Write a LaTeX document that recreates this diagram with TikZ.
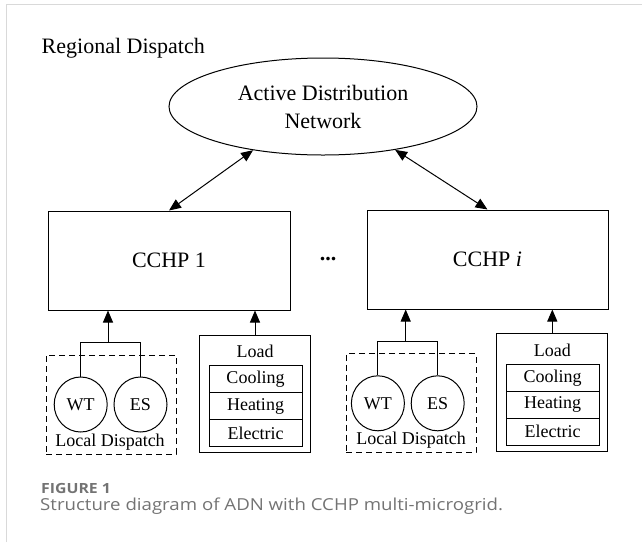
\documentclass[tikz,border=0pt]{standalone}
\usepackage{fontspec}
\setmainfont{Liberation Serif}
\newfontfamily\capfont[FakeStretch=1.13]{Open Sans}
\usetikzlibrary{arrows.meta,shapes.geometric}

\begin{document}
\begin{tikzpicture}[x=1pt,y=-1pt,
    big/.style={font=\fontsize{22}{28}\selectfont},
    small/.style={font=\fontsize{18}{20}\selectfont},
    box/.style={draw,line width=1pt,inner sep=0pt},
    unit/.style={draw,ellipse,line width=1pt,minimum width=53,minimum height=55,inner sep=0pt,small},
    localbox/.style={draw,dash pattern=on 6pt off 4pt,line width=1pt,minimum width=130,minimum height=99},
    loadrow/.style={box,minimum width=93,minimum height=27,small},
    link/.style={line width=1pt},
    arr/.style={link,-{Triangle[length=12pt,width=10pt]}},
    dblarr/.style={link,{Triangle[length=12pt,width=10pt]}-{Triangle[length=12pt,width=10pt]}}]
    \useasboundingbox (0,0) rectangle (642,542);
    \draw[black!15,line width=1.5pt] (6.5,542) -- (6.5,4.5) -- (642,4.5);

    % upper level
    \node[big,anchor=base west,inner sep=0pt] (regional) at (41.5,53) {Regional Dispatch};
    \node[big,draw,ellipse,line width=1pt,minimum width=308,minimum height=97,align=center] (adn) at (323,106.5) {Active Distribution\\Network};
    \node[big,box,minimum width=242,minimum height=99] (cchp1) at (169,260.5) {CCHP 1};
    \node[big,box,minimum width=241,minimum height=99] (cchpi) at (487.5,259.5) {CCHP \textit{i}};
    \node[big] (dots) at (328,259) {\textbf{...}};
    \draw[dblarr] (adn.212) -- (cchp1.north);
    \draw[dblarr] (adn.329) -- (cchpi.north);

    % microgrid 1
    \node[localbox] (local1) at (111,404.5) {};
    \node[unit] (wt1) at (80.7,404.5) {WT};
    \node[unit] (es1) at (140.5,404.5) {ES};
    \node[small] (localtxt1) at (110,442) {Local Dispatch};
    \coordinate (j1) at (108,342);
    \draw[link] (wt1.north) |- (j1) -| (es1.north);
    \draw[arr] (j1) -- (j1 |- cchp1.south);
    \node[box,minimum width=111,minimum height=117] (load1) at (255,394) {};
    \node[small] (loadtxt1) at (255,351.7) {Load};
    \node[loadrow] (cool1) at (255.5,379.3) {Cooling};
    \node[loadrow] (heat1) at (255.5,406.3) {Heating};
    \node[loadrow] (elec1) at (255.5,433.3) {Electric};
    \draw[arr] (load1.north) -- (load1.north |- cchp1.south);

    % microgrid i
    \node[localbox] (local2) at (411,403.3) {};
    \node[unit] (wt2) at (377.9,403.3) {WT};
    \node[unit] (es2) at (437.7,403.3) {ES};
    \node[small] (localtxt2) at (411,440) {Local Dispatch};
    \coordinate (j2) at (405.7,341.7);
    \draw[link] (wt2.north) |- (j2) -| (es2.north);
    \draw[arr] (j2) -- (j2 |- cchpi.south);
    \node[box,minimum width=111,minimum height=117.7] (load2) at (552.3,392.8) {};
    \node[small] (loadtxt2) at (552.3,350.7) {Load};
    \node[loadrow] (cool2) at (552.7,378) {Cooling};
    \node[loadrow] (heat2) at (552.7,404.7) {Heating};
    \node[loadrow] (elec2) at (552.7,431.7) {Electric};
    \draw[arr] (load2.north) -- (load2.north |- cchpi.south);

    % caption
    \node[anchor=base west,inner sep=0pt,text=black!55,font=\capfont\fontsize{14}{16}\selectfont\bfseries] (fig) at (41,493) {FIGURE 1};
    \node[anchor=base west,inner sep=0pt,text=black!55,font=\capfont\fontsize{16.5}{18}\selectfont] (caption) at (40,510) {Structure diagram of ADN with CCHP multi-microgrid.};
\end{tikzpicture}
\end{document}
